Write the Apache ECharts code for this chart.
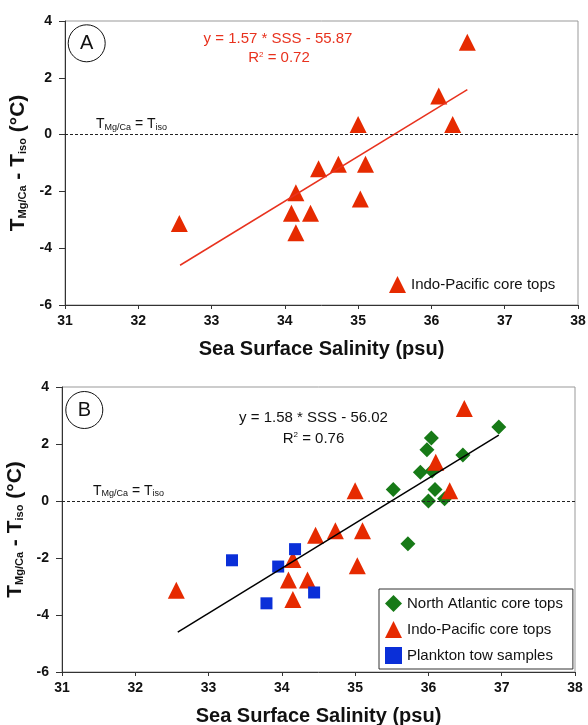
<!DOCTYPE html>
<html><head><meta charset="utf-8">
<script src="https://cdn.jsdelivr.net/npm/echarts@6/dist/echarts.min.js"></script>
<style>html,body{margin:0;padding:0;background:#fff}#c{width:588px;height:725px}</style>
</head><body><div id="c"></div>
<script>
// ---- data ----
const sssMin = 31, sssMax = 38, sssStep = 1;
const dtMin = -6, dtMax = 4, dtStep = 2;

const indoPacificSSS = [32.56, 34.15, 34.09, 34.35, 34.15, 34.46, 34.73, 35.00, 35.10, 35.03, 36.10, 36.29, 36.49];
const indoPacificDT  = [-3.13, -2.05, -2.77, -2.77, -3.46, -1.20, -1.04, 0.36, -1.04, -2.27, 1.36, 0.36, 3.25];

const northAtlanticSSS = [36.96, 36.04, 35.98, 36.47, 35.89, 36.05, 35.52, 36.09, 36.00, 36.22, 35.72];
const northAtlanticDT  = [2.60, 2.21, 1.80, 1.61, 1.01, 1.05, 0.40, 0.40, 0.00, 0.08, -1.50];

const planktonSSS = [33.32, 33.95, 34.18, 33.79, 34.44];
const planktonDT  = [-2.08, -2.30, -1.69, -3.59, -3.21];

const fitA_SSS = [32.57, 36.49];
const fitA_DT  = [-4.60, 1.58];
const fitB_SSS = [32.58, 36.96];
const fitB_DT  = [-4.60, 2.31];

const eqA = 'y = 1.57 * SSS - 55.87', r2A = '0.72';
const eqB = 'y = 1.58 * SSS - 56.02', r2B = '0.76';
const panelLabels = ['A', 'B'];
const nameIP = 'Indo-Pacific core tops', nameNA = 'North Atlantic core tops', namePT = 'Plankton tow samples';

// ---- styling ----
const FF = '"Liberation Sans", Arial, Helvetica, sans-serif';
const RED = '#e62a00', LINERED = '#e8321e', GREEN = '#177a17', BLUE = '#0a2fd8', INK = '#111';
const zip = (a, b) => a.map((v, i) => [v, b[i]]);

function xAxisCfg(gi) {
  return {
    gridIndex: gi, type: 'value', min: sssMin, max: sssMax, interval: sssStep,
    name: 'Sea Surface Salinity (psu)', nameLocation: 'middle', nameGap: 34,
    nameTextStyle: { fontFamily: FF, fontSize: 20, fontWeight: 'bold', color: INK },
    axisLine: { onZero: false, lineStyle: { color: '#333', width: 1 } },
    axisTick: { length: 4, lineStyle: { color: '#333' } },
    axisLabel: { fontFamily: FF, fontSize: 14, fontWeight: 'bold', color: INK, margin: 9 },
    splitLine: { show: false }
  };
}
function yAxisCfg(gi) {
  return {
    gridIndex: gi, type: 'value', min: dtMin, max: dtMax, interval: dtStep,
    name: '{t|T}{s|Mg/Ca}{t| - T}{s|iso}{t| (°C)}', nameLocation: 'middle', nameGap: 31, nameRotate: 90,
    nameTextStyle: {
      color: INK,
      rich: {
        t: { fontFamily: FF, fontSize: 21, fontWeight: 'bold', color: INK, lineHeight: 24, verticalAlign: 'bottom' },
        s: { fontFamily: FF, fontSize: 11, fontWeight: 'bold', color: INK, lineHeight: 12, verticalAlign: 'bottom' }
      }
    },
    axisLine: { show: true, lineStyle: { color: '#333', width: 1 } },
    axisTick: { show: true, length: 6, lineStyle: { color: '#333' } },
    axisLabel: { fontFamily: FF, fontSize: 14, fontWeight: 'bold', color: INK, margin: 13 },
    splitLine: { show: false }
  };
}
function zeroLine() {
  return {
    silent: true, symbol: 'none',
    lineStyle: { color: '#222', type: [3, 2], width: 1 },
    label: {
      show: true, position: 'insideStartTop', distance: [31, 3],
      formatter: '{t|T}{s|Mg/Ca}{t| = T}{s|iso}',
      rich: {
        t: { fontFamily: FF, fontSize: 14, color: INK, lineHeight: 16, verticalAlign: 'bottom' },
        s: { fontFamily: FF, fontSize: 9, color: INK, lineHeight: 9, verticalAlign: 'bottom' }
      }
    },
    data: [{ yAxis: 0 }]
  };
}

const option = {
  animation: false,
  backgroundColor: '#fff',
  grid: [
    { left: 65, top: 21, width: 513, height: 284, show: true, borderColor: '#999', borderWidth: 1, outerBoundsMode: 'none', containLabel: false },
    { left: 62, top: 387, width: 513, height: 285, show: true, borderColor: '#999', borderWidth: 1, outerBoundsMode: 'none', containLabel: false }
  ],
  xAxis: [xAxisCfg(0), xAxisCfg(1)],
  yAxis: [yAxisCfg(0), yAxisCfg(1)],
  legend: [
    {
      data: [{ name: nameIP, icon: 'triangle' }],
      left: 389, top: 276, itemWidth: 17, itemHeight: 17, padding: 0,
      textStyle: { fontFamily: FF, fontSize: 15, color: INK }, selectedMode: false
    },
    {
      data: [{ name: nameNA, icon: 'diamond' }, { name: nameIP, icon: 'triangle' }, { name: namePT, icon: 'rect' }],
      orient: 'vertical', left: 379, top: 589, itemWidth: 17, itemHeight: 17, itemGap: 9,
      padding: [6, 10, 5, 6], borderColor: '#333', borderWidth: 1,
      textStyle: { fontFamily: FF, fontSize: 15, color: INK }, selectedMode: false
    }
  ],
  graphic: [
    { type: 'circle', shape: { cx: 86.7, cy: 43.3, r: 18.5 }, style: { fill: 'none', stroke: '#111', lineWidth: 1 } },
    { type: 'text', x: 86.7, y: 43.5, style: { text: panelLabels[0], font: '20px ' + FF, fill: INK, textAlign: 'center', textVerticalAlign: 'middle' } },
    { type: 'circle', shape: { cx: 84.3, cy: 410, r: 18.5 }, style: { fill: 'none', stroke: '#111', lineWidth: 1 } },
    { type: 'text', x: 84.3, y: 410.2, style: { text: panelLabels[1], font: '20px ' + FF, fill: INK, textAlign: 'center', textVerticalAlign: 'middle' } },
    { type: 'text', x: 278, y: 39, style: { text: eqA, font: '15px ' + FF, fill: LINERED, textAlign: 'center', textVerticalAlign: 'middle' } },
    { type: 'text', x: 279, y: 58, style: { text: 'R{sup|2} = ' + r2A, font: '15px ' + FF, fill: LINERED, textAlign: 'center', textVerticalAlign: 'middle',
        rich: { sup: { fontSize: 8, fontFamily: FF, fill: LINERED, verticalAlign: 'top', lineHeight: 8 } } } },
    { type: 'text', x: 313.5, y: 418, style: { text: eqB, font: '15px ' + FF, fill: INK, textAlign: 'center', textVerticalAlign: 'middle' } },
    { type: 'text', x: 313.5, y: 438.5, style: { text: 'R{sup|2} = ' + r2B, font: '15px ' + FF, fill: INK, textAlign: 'center', textVerticalAlign: 'middle',
        rich: { sup: { fontSize: 8, fontFamily: FF, fill: INK, verticalAlign: 'top', lineHeight: 8 } } } }
  ],
  series: [
    // Panel A
    { name: nameIP, type: 'scatter', xAxisIndex: 0, yAxisIndex: 0, symbol: 'triangle', symbolSize: 17,
      itemStyle: { color: RED, opacity: 1 }, data: zip(indoPacificSSS, indoPacificDT), markLine: zeroLine(), z: 3 },
    { name: 'fitA', type: 'line', xAxisIndex: 0, yAxisIndex: 0, symbol: 'none', silent: true,
      lineStyle: { color: LINERED, width: 1.5 }, data: zip(fitA_SSS, fitA_DT), z: 5 },
    // Panel B
    { name: nameNA, type: 'scatter', xAxisIndex: 1, yAxisIndex: 1, symbol: 'diamond', symbolSize: 15,
      itemStyle: { color: GREEN, opacity: 1 }, data: zip(northAtlanticSSS, northAtlanticDT), markLine: zeroLine(), z: 2 },
    { name: nameIP, type: 'scatter', xAxisIndex: 1, yAxisIndex: 1, symbol: 'triangle', symbolSize: 17,
      itemStyle: { color: RED, opacity: 1 }, data: zip(indoPacificSSS, indoPacificDT), z: 3 },
    { name: namePT, type: 'scatter', xAxisIndex: 1, yAxisIndex: 1, symbol: 'rect', symbolSize: 12,
      itemStyle: { color: BLUE, opacity: 1 }, data: zip(planktonSSS, planktonDT), z: 4 },
    { name: 'fitB', type: 'line', xAxisIndex: 1, yAxisIndex: 1, symbol: 'none', silent: true,
      lineStyle: { color: '#000', width: 1.5 }, data: zip(fitB_SSS, fitB_DT), z: 5 }
  ]
};
const chart = echarts.init(document.getElementById('c'), null, { renderer: 'canvas' });
chart.setOption(option);
</script></body></html>
